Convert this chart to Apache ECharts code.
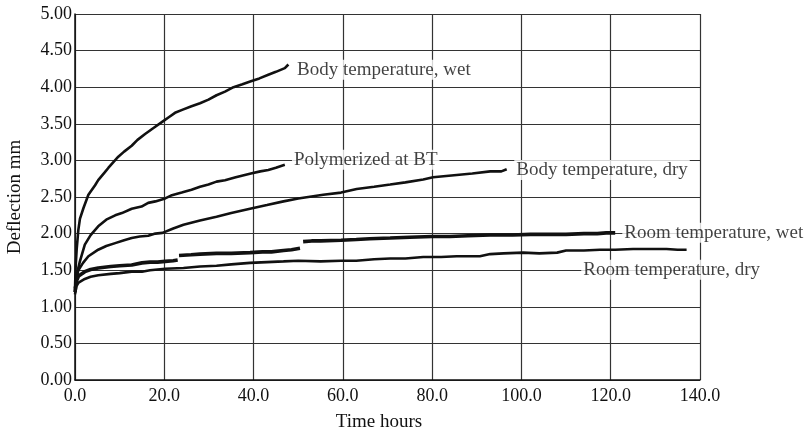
<!DOCTYPE html>
<html>
<head>
<meta charset="utf-8">
<script src="https://cdn.jsdelivr.net/npm/echarts@6/dist/echarts.min.js"></script>
<style>html,body{margin:0;padding:0;background:#fff}#c{width:811px;height:435px}</style>
</head>
<body>
<div id="c"></div>
<script>
// Axis ticks
const xTicks = [0, 20, 40, 60, 80, 100, 120, 140];
const yTicks = [0, 0.5, 1, 1.5, 2, 2.5, 3, 3.5, 4, 4.5, 5];

// Series values: [time hours, deflection mm]
const bodyWet = [[0,1.25],[0.15,1.55],[0.37,1.78],[0.75,2.05],[1.1,2.2],[1.9,2.35],[3.0,2.53],[4.5,2.66],[5.2,2.73],[6.7,2.84],[7.5,2.9],[8.5,2.97],[9.7,3.05],[11,3.12],[12.7,3.2],[14,3.28],[15.7,3.36],[17.5,3.44],[19.6,3.53],[21,3.59],[22.4,3.65],[24,3.69],[26.1,3.74],[28,3.78],[29.9,3.83],[31.7,3.89],[33.6,3.94],[35.5,4.0],[37.5,4.04],[39.4,4.08],[41.3,4.12],[43.3,4.17],[45,4.21],[47,4.26],[47.8,4.31]];
const polymerizedBT = [[0,1.25],[0.3,1.42],[1.1,1.62],[2.2,1.85],[3.5,1.98],[5.2,2.1],[7,2.19],[9,2.25],[10.5,2.28],[12.7,2.34],[14.9,2.37],[16.4,2.42],[18,2.44],[20.2,2.48],[21.5,2.52],[23.9,2.56],[26.1,2.6],[28,2.64],[29.9,2.67],[31.7,2.71],[33.6,2.73],[36,2.77],[39.4,2.82],[41.5,2.85],[43.3,2.87],[45,2.9],[47,2.94]];
const bodyDry = [[0,1.22],[0.4,1.4],[0.75,1.5],[1.8,1.6],[3,1.69],[5.2,1.78],[7,1.83],[9,1.87],[11,1.91],[12.7,1.94],[14.5,1.96],[16.4,1.97],[18,2.0],[19.6,2.01],[22,2.07],[24.3,2.12],[28,2.18],[31.7,2.23],[35,2.28],[39.2,2.34],[43,2.39],[46.7,2.44],[50,2.48],[55.6,2.53],[59.6,2.56],[63.1,2.61],[67,2.64],[70.6,2.67],[74,2.7],[78,2.74],[80.2,2.77],[85.5,2.8],[89,2.82],[93,2.85],[95.5,2.85],[96.7,2.88]];
const roomWet = [[0,1.2],[0.3,1.35],[0.8,1.42],[2.2,1.48],[3.5,1.51],[5.2,1.53],[8,1.55],[10,1.56],[12.7,1.57],[15,1.6],[16.8,1.61],[18.5,1.61],[20.2,1.62],[22,1.63],[23,1.64],[23.15,null],[23.3,1.7],[26,1.71],[28,1.72],[31.7,1.73],[35,1.73],[39.2,1.74],[42,1.75],[44,1.75],[46.7,1.77],[48.5,1.78],[50.4,1.8],[50.8,null],[51.1,1.89],[53,1.9],[55,1.9],[59.6,1.91],[63,1.92],[66,1.93],[70.6,1.94],[75,1.95],[80,1.96],[84,1.96],[88,1.97],[93,1.98],[98,1.98],[102,1.99],[106,1.99],[110,1.99],[114,2.0],[117,2.0],[119,2.01],[121,2.01]];
const roomDry = [[0,1.17],[0.3,1.28],[0.8,1.33],[2.2,1.38],[3.5,1.41],[5.2,1.43],[8,1.45],[10,1.46],[12.7,1.48],[15,1.48],[16.8,1.5],[20.2,1.52],[24.3,1.53],[28,1.55],[31.7,1.56],[35,1.58],[39.2,1.6],[43,1.61],[46.7,1.62],[50,1.63],[55,1.62],[59.6,1.63],[63,1.63],[67,1.65],[70.6,1.66],[74,1.66],[78,1.68],[82,1.68],[85.5,1.69],[90.7,1.69],[93,1.72],[96,1.73],[100.4,1.74],[104,1.73],[108,1.74],[110,1.77],[114,1.77],[117.6,1.78],[121,1.78],[125,1.79],[129,1.79],[132.5,1.79],[135,1.78],[137,1.78]];

// Curve labels: name and anchor [time, deflection]
const labelNames = ['Body temperature, wet', 'Polymerized at BT', 'Body temperature, dry', 'Room temperature, wet', 'Room temperature, dry'];
const labelAnchors = [[49.3, 4.24], [48.6, 3.01], [98.4, 2.87], [122.6, 2.01], [113.4, 1.505]];

const FONT = '"Liberation Serif", "Times New Roman", serif';
const chart = echarts.init(document.getElementById('c'), null, {renderer: 'canvas'});

function lineSeries(name, data, width) {
  return {
    name: name, type: 'line', data: data, symbol: 'none', showSymbol: false,
    connectNulls: false, smooth: false,
    lineStyle: {color: '#111', width: width},
    z: 3, animation: false
  };
}

chart.setOption({
  animation: false,
  backgroundColor: '#fff',
  grid: {left: 75, right: 111, top: 14, bottom: 55, containLabel: false, outerBoundsMode: 'none'},
  xAxis: {
    type: 'value', min: xTicks[0], max: xTicks[xTicks.length - 1], interval: 20,
    name: 'Time hours', nameLocation: 'middle', nameGap: 33,
    nameTextStyle: {fontFamily: FONT, fontSize: 19, color: '#111', padding: [0, 17, 0, 0]},
    axisLine: {show: true, lineStyle: {color: '#111', width: 1.5}},
    axisTick: {show: false},
    axisLabel: {fontFamily: FONT, fontSize: 18, color: '#111', margin: 7, formatter: v => v.toFixed(1)},
    splitLine: {show: true, lineStyle: {color: '#333', width: 1.2}}
  },
  yAxis: {
    type: 'value', min: yTicks[0], max: yTicks[yTicks.length - 1], interval: 0.5,
    name: 'Deflection mm', nameLocation: 'middle', nameGap: 50, nameRotate: 90,
    nameTextStyle: {fontFamily: FONT, fontSize: 19, color: '#111'},
    axisLine: {show: true, lineStyle: {color: '#111', width: 1.5}},
    axisTick: {show: false},
    axisLabel: {fontFamily: FONT, fontSize: 18, color: '#111', margin: 3, formatter: v => v.toFixed(2)},
    splitLine: {show: true, lineStyle: {color: '#333', width: 1.2}}
  },
  series: [
    lineSeries('Body temperature, wet', bodyWet, 2.6),
    lineSeries('Polymerized at BT', polymerizedBT, 2.6),
    lineSeries('Body temperature, dry', bodyDry, 2.6),
    lineSeries('Room temperature, wet', roomWet, 3.6),
    lineSeries('Room temperature, dry', roomDry, 2.6),
    {
      type: 'scatter', symbolSize: 0, z: 5, silent: true, animation: false,
      data: labelNames.map((n, i) => ({name: n, value: labelAnchors[i]})),
      label: {
        show: true, position: 'right', distance: 0, formatter: p => p.name,
        fontFamily: FONT, fontSize: 19, color: '#111',
        backgroundColor: '#fff', padding: [1, 2, 0, 2]
      }
    }
  ]
});
</script>
</body>
</html>
